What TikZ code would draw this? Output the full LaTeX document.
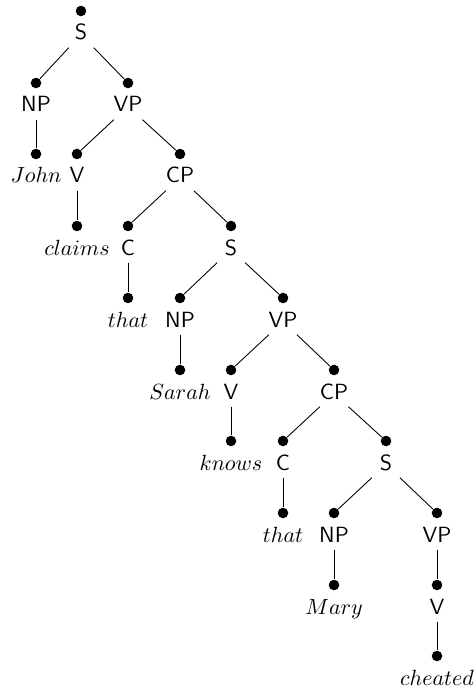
\documentclass[tikz,border=0pt]{standalone}
\usepackage{amsmath}
\usepackage{tikz}
\usetikzlibrary{calc}

\tikzset{
  dot/.style={circle, fill=black, inner sep=0pt, minimum size=4.8pt},
  cat/.style={anchor=base, text height=7pt, text depth=2pt, inner xsep=4pt, inner ysep=1.3pt, font=\sffamily},
  leaf/.style={anchor=base, text height=7pt, text depth=2pt, inner xsep=4pt, inner ysep=1.3pt}
}

\begin{document}
\begin{tikzpicture}[x=0.4545pt, y=-0.4545pt]
\useasboundingbox (0,0) rectangle (475,694);
% labels (placed on their baselines)
\node[cat] (s1) at (81, 40) {S};
\node[cat] (np1) at (36, 112) {NP};
\node[cat] (vp1) at (128, 112) {VP};
\node[leaf] (john) at (36, 183) {$John$};
\node[cat] (v1) at (77, 183) {V};
\node[cat] (cp1) at (180, 183) {CP};
\node[leaf] (claims) at (77, 255) {$claims$};
\node[cat] (c1) at (128, 255) {C};
\node[cat] (s2) at (231, 255) {S};
\node[leaf] (that1) at (128, 327) {$that$};
\node[cat] (np2) at (180, 327) {NP};
\node[cat] (vp2) at (283, 327) {VP};
\node[leaf] (sarah) at (180, 399) {$Sarah$};
\node[cat] (v2) at (231, 399) {V};
\node[cat] (cp2) at (334, 399) {CP};
\node[leaf] (knows) at (231, 470) {$knows$};
\node[cat] (c2) at (283, 470) {C};
\node[cat] (s3) at (386, 470) {S};
\node[leaf] (that2) at (283, 542) {$that$};
\node[cat] (np3) at (334, 542) {NP};
\node[cat] (vp3) at (437, 542) {VP};
\node[leaf] (mary) at (334, 614) {$Mary$};
\node[cat] (v3) at (437, 614) {V};
\node[leaf] (cheated) at (437, 685) {$cheated$};
% dots above every label
\foreach \n in {s1,np1,vp1,john,v1,cp1,claims,c1,s2,that1,np2,vp2,sarah,v2,cp2,knows,c2,s3,that2,np3,vp3,mary,v3,cheated}
  \node[dot] (d-\n) at ($(\n.base)+(0,-29)$) {};
% branches
\foreach \a/\b in {s1/np1, s1/vp1, np1/john, vp1/v1, vp1/cp1, v1/claims, cp1/c1, cp1/s2, c1/that1, s2/np2, s2/vp2, np2/sarah, vp2/v2, vp2/cp2, v2/knows, cp2/c2, cp2/s3, c2/that2, s3/np3, s3/vp3, np3/mary, vp3/v3, v3/cheated}
  \draw (\a) -- (d-\b);
\end{tikzpicture}
\end{document}
